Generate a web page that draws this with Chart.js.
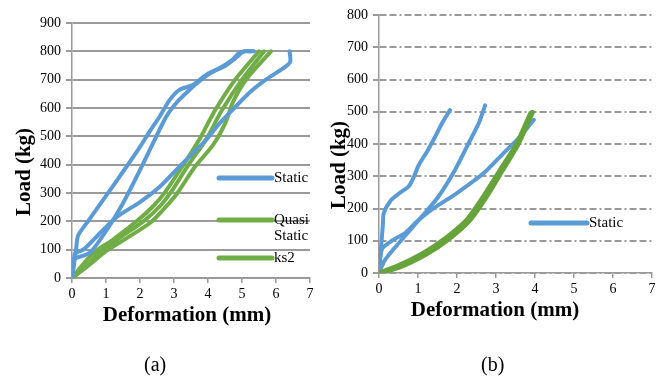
<!DOCTYPE html>
<html>
<head>
<meta charset="utf-8">
<script src="https://cdn.jsdelivr.net/npm/chart.js@4"></script>
<style>
body { margin: 0; background: #fff; }
#wrap { position: relative; width: 665px; height: 379px; overflow: hidden; font-family: "Liberation Serif", serif; }
canvas { position: absolute; top: 0; }
#chartA { left: 0; }
#chartB { left: 330px; }
.cap { position: absolute; top: 353px; font-family: "Liberation Serif", serif; font-size: 20px; line-height: 23px; color: #000; }
</style>
</head>
<body>
<div id="wrap">
  <canvas id="chartA" width="330" height="379"></canvas>
  <canvas id="chartB" width="335" height="379"></canvas>
  <div class="cap" style="left:144px">(a)</div>
  <div class="cap" style="left:481px">(b)</div>
</div>
<script>
// DATA  (deformation mm, load kg)
const staticA1 = [[0,0],[0.05,40],[0.12,100],[0.18,150],[0.5,205],[1.0,290],[1.5,375],[2.0,463],[2.3,520],[2.58,570],[2.87,628],[3.16,664],[3.55,681],[3.94,717],[4.33,740],[4.72,770],[4.9,793],[5.1,800],[5.35,800]];
const staticA2 = [[0.1,70],[0.53,90],[1.02,169],[1.5,264],[2.0,381],[2.38,475],[2.77,569],[3.06,617],[3.35,652],[3.7,690],[4.1,725],[4.5,748],[4.8,775],[5.05,800],[5.3,800]];
const staticA3 = [[0,0],[0.05,50],[0.09,87],[0.33,100],[0.82,158],[1.31,215],[2.0,268],[2.58,322],[3.06,381],[3.55,440],[3.94,487],[4.3,540],[4.72,593],[5.2,652],[5.69,699],[6.28,746],[6.42,764],[6.4,800]];
const quasiA1 = [[0,0],[0.3,45],[0.65,90],[1.2,135],[1.9,200],[2.4,255],[2.75,305],[3.25,395],[3.75,490],[4.2,590],[4.8,700],[5.5,800]];
const quasiA2 = [[0,0],[0.4,40],[0.85,95],[1.5,150],[2.1,200],[2.6,255],[2.95,310],[3.4,395],[3.95,490],[4.4,590],[5.0,700],[5.65,800]];
const ks2A = [[0,0],[0.5,45],[1.0,95],[1.6,140],[2.3,195],[2.75,250],[3.1,300],[3.6,390],[4.15,470],[4.5,545],[4.75,625],[5.15,705],[5.85,800]];

const staticB1 = [[0,0],[0.04,60],[0.1,150],[0.12,185],[0.3,225],[0.55,250],[0.76,268],[0.9,300],[1.02,335],[1.25,380],[1.45,425],[1.62,465],[1.82,505]];
const staticB2 = [[0,0],[0.15,40],[0.58,103],[1.1,175],[1.53,238],[1.96,322],[2.3,403],[2.56,465],[2.72,520]];
const staticB3 = [[0,20],[0.08,75],[0.33,100],[0.67,124],[0.93,155],[1.36,197],[2.0,248],[2.68,309],[3.19,371],[3.62,423],[3.97,475]];
const greenB1 = [[0,0],[0.45,20],[1.13,61],[1.65,102],[2.25,164],[2.68,237],[3.11,319],[3.54,402],[3.89,495]];
const greenB2 = [[0,0],[0.5,17],[1.2,58],[1.72,99],[2.3,160],[2.75,236],[3.16,318],[3.58,403],[3.93,498]];

const legendA = ['Static', 'Quasi\nStatic', 'ks2'];
const legendB = ['Static'];
const yTitle = 'Load (kg)';
const xTitle = 'Deformation (mm)';

const BLUE = '#5B9BD5';
const GREEN = '#70AD47';
const GREEN_DARK = '#66A33A';
const GRID = '#9a9a9a';
const FONT = '"Liberation Serif", serif';

function line(points, color, width) {
    return {
        data: points.map(p => ({ x: p[0], y: p[1] })),
        showLine: true,
        borderColor: color,
        borderWidth: width,
        pointRadius: 0,
        tension: 0.25,
        borderCapStyle: 'round',
        borderJoinStyle: 'round',
        fill: false
    };
}

function axes(yMax, yWidth, xHeight, dash) {
    return {
        x: {
            type: 'linear', min: 0, max: 7,
            ticks: { stepSize: 1, color: '#000', padding: 3, font: { family: FONT, size: 14 } },
            grid: { drawOnChartArea: false, color: GRID, lineWidth: 1.5, tickLength: 5 },
            border: { color: GRID, width: 1.5 },
            afterFit: s => { s.height = xHeight; }
        },
        y: {
            type: 'linear', min: 0, max: yMax,
            ticks: { stepSize: 100, color: '#000', padding: 5, font: { family: FONT, size: 14 } },
            grid: { color: GRID, lineWidth: 2, tickLength: 6, tickBorderDash: [] },
            border: { color: GRID, width: 1.5, dash: dash },
            afterFit: s => { s.width = yWidth; }
        }
    };
}

// titles + legend drawn at fixed spots
const overlay = {
    id: 'overlay',
    afterDraw(chart, args, o) {
        const ctx = chart.ctx;
        ctx.save();
        ctx.fillStyle = '#000';
        ctx.font = 'bold 21px ' + FONT;
        ctx.textAlign = 'center';
        ctx.textBaseline = 'middle';
        ctx.fillText(xTitle, o.xt[0], o.xt[1]);
        ctx.save();
        ctx.translate(o.yt[0], o.yt[1]);
        ctx.rotate(-Math.PI / 2);
        ctx.fillText(yTitle, 0, 0);
        ctx.restore();
        ctx.font = '15px ' + FONT;
        ctx.textAlign = 'left';
        o.legend.forEach(it => {
            ctx.strokeStyle = it.color;
            ctx.lineWidth = 5;
            ctx.lineCap = 'round';
            ctx.beginPath();
            ctx.moveTo(o.lx[0], it.y);
            ctx.lineTo(o.lx[1], it.y);
            ctx.stroke();
            it.text.split('\n').forEach((t, j) => ctx.fillText(t, o.lx[1] + 2, it.y + j * 16));
        });
        ctx.restore();
    }
};

new Chart(document.getElementById('chartA'), {
    type: 'scatter',
    data: {
        datasets: [
            line(staticA1, BLUE, 4), line(staticA2, BLUE, 4), line(staticA3, BLUE, 4),
            line(quasiA1, GREEN, 4), line(quasiA2, GREEN, 4), line(ks2A, GREEN, 4)
        ]
    },
    options: {
        responsive: false,
        animation: false,
        layout: { padding: { top: 23, right: 20, left: 0, bottom: 0 } },
        scales: axes(900, 72, 101, []),
        plugins: {
            legend: { display: false },
            tooltip: { enabled: false },
            overlay: {
                xt: [187, 316], yt: [25, 172], lx: [219, 272],
                legend: [
                    { text: legendA[0], color: BLUE, y: 178 },
                    { text: legendA[1], color: GREEN, y: 220 },
                    { text: legendA[2], color: GREEN, y: 258 }
                ]
            }
        }
    },
    plugins: [overlay]
});

new Chart(document.getElementById('chartB'), {
    type: 'scatter',
    data: {
        datasets: [
            line(greenB1, GREEN_DARK, 5), line(greenB2, GREEN_DARK, 5),
            line(staticB1, BLUE, 4), line(staticB2, BLUE, 4), line(staticB3, BLUE, 4)
        ]
    },
    options: {
        responsive: false,
        animation: false,
        layout: { padding: { top: 15, right: 13, left: 0, bottom: 0 } },
        scales: axes(800, 49, 106, [7, 3, 7, 3, 2, 3]),
        plugins: {
            legend: { display: false },
            tooltip: { enabled: false },
            overlay: {
                xt: [165, 311], yt: [10, 165], lx: [201, 257],
                legend: [{ text: legendB[0], color: BLUE, y: 223 }]
            }
        }
    },
    plugins: [overlay]
});
</script>
</body>
</html>
